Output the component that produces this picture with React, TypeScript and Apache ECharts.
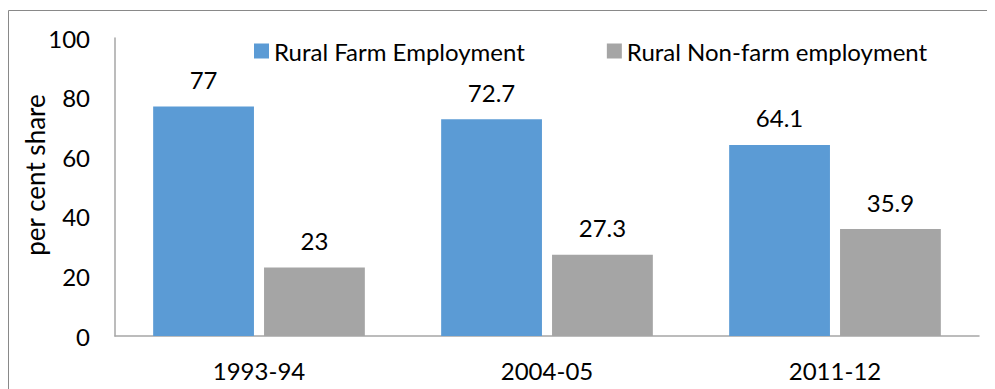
import React, { useEffect, useRef } from "react";
import * as echarts from "echarts";

const categories = ["1993-94", "2004-05", "2011-12"];
const farmValues = [77, 72.7, 64.1];
const nonFarmValues = [23, 27.3, 35.9];
const yTicks = [0, 20, 40, 60, 80, 100];
const yAxisTitle = "per cent share";

const FONT = "Lato";
const FS = 24;

export default function App() {
  const ref = useRef<HTMLDivElement>(null);
  useEffect(() => {
    if (!ref.current) return;
    const chart = echarts.init(ref.current, undefined, { renderer: "svg" });
    chart.setOption({
      animation: false,
      textStyle: { fontFamily: FONT },
      graphic: [
        {
          type: "rect",
          shape: { x: 0.5, y: 2.5, width: 1100, height: 600 },
          style: { fill: "none", stroke: "#898989", lineWidth: 1 },
          silent: true,
        },
        {
          type: "text",
          x: 27,
          y: 167,
          rotation: Math.PI / 2,
          style: {
            text: yAxisTitle,
            fontFamily: FONT,
            fontSize: 26,
            fill: "#000",
            align: "center",
            verticalAlign: "middle",
          },
          silent: true,
        },
      ],
      legend: {
        left: 241,
        top: 26,
        itemWidth: 15,
        itemHeight: 15,
        itemGap: 82,
        icon: "rect",
        textStyle: { fontFamily: FONT, fontSize: FS, color: "#000" },
        data: ["Rural Farm Employment", "Rural Non-farm employment"],
      },
      grid: { left: 107, right: 16, top: 30, bottom: 53, containLabel: false },
      xAxis: {
        type: "category",
        data: categories,
        axisLine: { lineStyle: { color: "#a6a6a6", width: 1.5 } },
        axisTick: { show: false },
        axisLabel: { fontFamily: FONT, fontSize: FS, color: "#000", margin: 22 },
      },
      yAxis: {
        type: "value",
        min: yTicks[0],
        max: yTicks[yTicks.length - 1],
        interval: 20,
        axisLine: { show: true, lineStyle: { color: "#a6a6a6", width: 1.5 } },
        axisTick: { show: false },
        splitLine: { show: false },
        axisLabel: { fontFamily: FONT, fontSize: FS, color: "#000", margin: 25 },
      },
      series: [
        {
          name: "Rural Farm Employment",
          type: "bar",
          data: farmValues,
          barWidth: "35%",
          barGap: "10%",
          itemStyle: { color: "#5B9BD5" },
          label: { show: true, position: "top", distance: 15, fontFamily: FONT, fontSize: FS, color: "#000" },
        },
        {
          name: "Rural Non-farm employment",
          type: "bar",
          data: nonFarmValues,
          barWidth: "35%",
          itemStyle: { color: "#A5A5A5" },
          label: { show: true, position: "top", distance: 15, fontFamily: FONT, fontSize: FS, color: "#000" },
        },
      ],
    });
    return () => chart.dispose();
  }, []);
  return <div ref={ref} style={{ width: 987, height: 381 }} />;
}
